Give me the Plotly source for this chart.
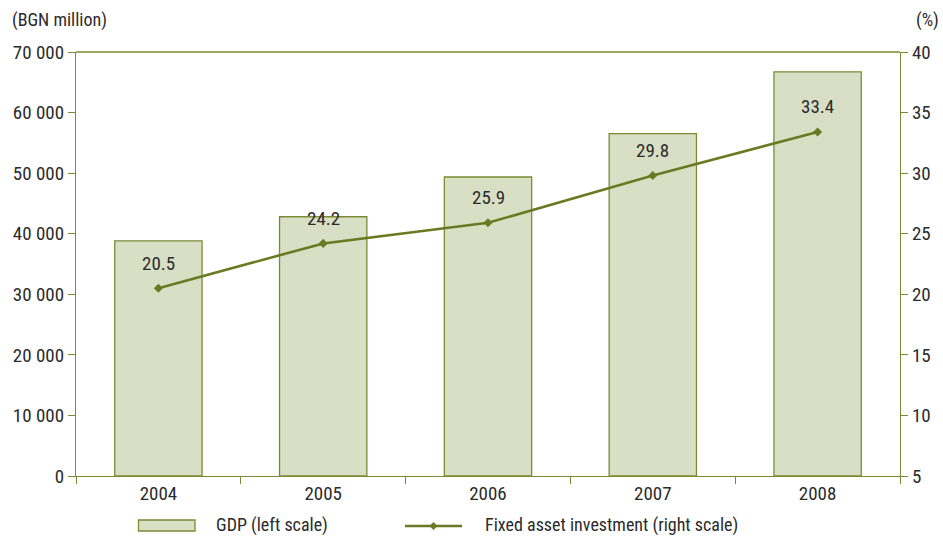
import plotly.graph_objects as go

# GDP and fixed asset investment, 2004-2008
years = ["2004", "2005", "2006", "2007", "2008"]
gdp_bgn_million = [38823, 42797, 49361, 56520, 66728]
fixed_investment_pct = [20.5, 24.2, 25.9, 29.8, 33.4]

left_ticks = [0, 10000, 20000, 30000, 40000, 50000, 60000, 70000]
left_labels = ["0", "10 000", "20 000", "30 000", "40 000", "50 000", "60 000", "70 000"]
right_ticks = [5, 10, 15, 20, 25, 30, 35, 40]

gdp_name = "GDP (left scale)"
inv_name = "Fixed asset investment (right scale)"

FONT = "Liberation Sans Narrow, Roboto Condensed, Arial Narrow, sans-serif"
TEXT = "#2b2b2b"
AXIS = "#7c8a34"
BAR_FILL = "#d9dfc5"
BAR_EDGE = "#7c8a34"
LINE = "#6b7a22"
FS = 19

fig = go.Figure()

fig.add_trace(go.Bar(
    x=years, y=gdp_bgn_million, name=gdp_name,
    marker=dict(color=BAR_FILL, line=dict(color=BAR_EDGE, width=1.3)),
    width=0.53, yaxis="y", showlegend=False,
))

fig.add_trace(go.Scatter(
    x=years, y=fixed_investment_pct, name=inv_name,
    mode="lines+markers", yaxis="y2", showlegend=False,
    line=dict(color=LINE, width=2.6),
    marker=dict(symbol="diamond", size=7, color=LINE),
))

# value labels above the line points
for i, v in enumerate(fixed_investment_pct):
    fig.add_annotation(x=i, y=v, xref="x", yref="y2", text=f"{v:.1f}", showarrow=False,
                       yshift=25, font=dict(family=FONT, size=FS, color=TEXT))

# unit captions above each axis
fig.add_annotation(x=0, y=1, xref="paper", yref="paper", xanchor="left", yanchor="middle",
                   xshift=-66, yshift=32, text="(BGN million)", showarrow=False,
                   font=dict(family=FONT, size=18, color=TEXT))
fig.add_annotation(x=1, y=1, xref="paper", yref="paper", xanchor="center", yanchor="middle",
                   xshift=27, yshift=32, text="(%)", showarrow=False,
                   font=dict(family=FONT, size=18, color=TEXT))

# top frame line
fig.add_shape(type="line", xref="paper", yref="paper", x0=0, x1=1, y0=1, y1=1,
              line=dict(color=AXIS, width=1.3))

# legend keys drawn below the plot area (paper units: plot is 824 x 424 px)
PW, PH = 824.0, 424.0
def px(xp):
    return (xp - 76) / PW
def py(yp):
    return (476 - yp) / PH

LEG_Y = 525
fig.add_shape(type="rect", xref="paper", yref="paper",
              x0=px(138.5), x1=px(195), y0=py(531), y1=py(520),
              fillcolor=BAR_FILL, line=dict(color=BAR_EDGE, width=1.3))
fig.add_annotation(x=px(214), y=py(LEG_Y), xref="paper", yref="paper", xanchor="left",
                   yanchor="middle", text=gdp_name, showarrow=False,
                   font=dict(family=FONT, size=18, color=TEXT))
fig.add_shape(type="line", xref="paper", yref="paper",
              x0=px(405), x1=px(462), y0=py(LEG_Y + 1), y1=py(LEG_Y + 1),
              line=dict(color=LINE, width=2.6))
cx, cy, r = 433.5, LEG_Y + 1, 3.8
diamond = (f"M {px(cx - r)},{py(cy)} L {px(cx)},{py(cy - r)} "
           f"L {px(cx + r)},{py(cy)} L {px(cx)},{py(cy + r)} Z")
fig.add_shape(type="path", xref="paper", yref="paper", path=diamond,
              fillcolor=LINE, line=dict(color=LINE, width=0.5))
fig.add_annotation(x=px(483), y=py(LEG_Y), xref="paper", yref="paper", xanchor="left",
                   yanchor="middle", text=inv_name, showarrow=False,
                   font=dict(family=FONT, size=18, color=TEXT))

fig.update_layout(
    width=943, height=536,
    margin=dict(l=76, r=43, t=52, b=60, autoexpand=False),
    paper_bgcolor="white", plot_bgcolor="white",
    font=dict(family=FONT, size=FS, color=TEXT),
    showlegend=False,
    xaxis=dict(type="category", categoryorder="array", categoryarray=years,
               range=[-0.5, 4.5], showline=True, linecolor=AXIS, linewidth=1.3,
               ticks="outside", tickson="boundaries", ticklen=7, tickcolor=AXIS,
               tickwidth=1.3, showgrid=False, tickfont=dict(family=FONT, size=FS, color=TEXT)),
    yaxis=dict(range=[0, 70000], tickvals=left_ticks, ticktext=left_labels,
               showline=True, linecolor=AXIS, linewidth=1.3, ticks="outside",
               ticklen=7, tickcolor=AXIS, tickwidth=1.3, showgrid=False, zeroline=False,
               tickfont=dict(family=FONT, size=FS, color=TEXT)),
    yaxis2=dict(range=[5, 40], tickvals=right_ticks, overlaying="y", side="right",
                showline=True, linecolor=AXIS, linewidth=1.3, ticks="outside",
                ticklen=7, tickcolor=AXIS, tickwidth=1.3, showgrid=False, zeroline=False,
                tickfont=dict(family=FONT, size=FS, color=TEXT)),
)

fig.write_html("out.html")
